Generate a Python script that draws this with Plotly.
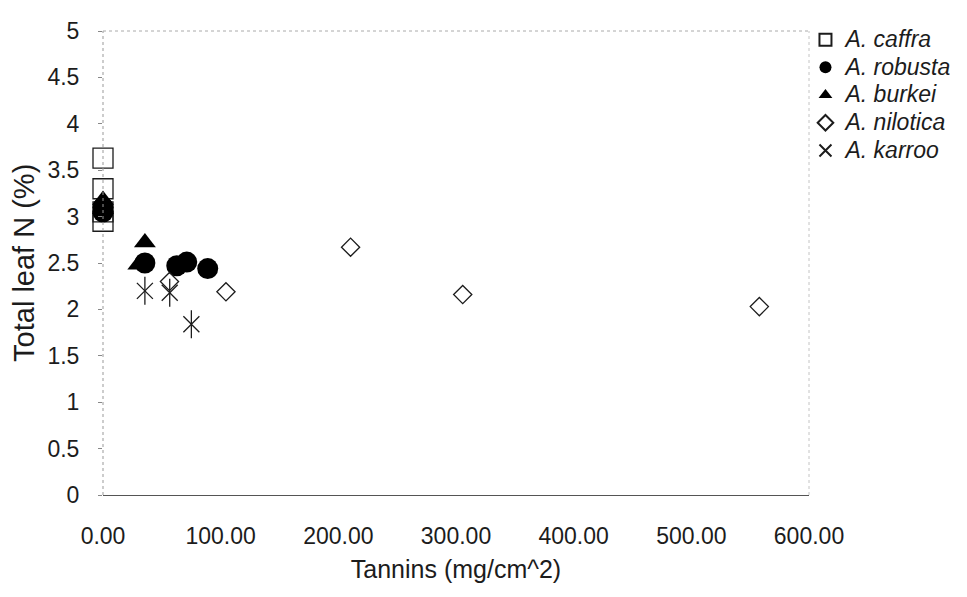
import plotly.graph_objects as go

# Data
caffra_x = [0, 0, 0, 0]
caffra_y = [3.63, 3.30, 3.05, 2.95]
robusta_x = [0, 0, 35.6, 62.7, 71.2, 89.0]
robusta_y = [3.05, 3.10, 2.50, 2.47, 2.51, 2.44]
burkei_x = [0, 0, 35.6, 30.0]
burkei_y = [3.18, 3.08, 2.72, 2.48]
nilotica_x = [56.5, 104.5, 210.4, 305.7, 557.8]
nilotica_y = [2.30, 2.19, 2.67, 2.16, 2.03]
karroo_x = [35.6, 56.7, 75.1]
karroo_y = [2.20, 2.18, 1.84]

species = ["A. caffra", "A. robusta", "A. burkei", "A. nilotica", "A. karroo"]
x_ticks = [0, 100, 200, 300, 400, 500, 600]
y_ticks = [0, 0.5, 1, 1.5, 2, 2.5, 3, 3.5, 4, 4.5, 5]

FONT = "Liberation Sans, Arial, sans-serif"
INK = "#1c1c1c"


def lname(s):
    return '<span style="font-size:23px">' + s + '</span>'


fig = go.Figure()
fig.add_trace(go.Scatter(x=caffra_x, y=caffra_y, mode="markers", name=lname(species[0]),
                         marker=dict(symbol="square-open", size=20, color=INK,
                                     line=dict(width=1.3, color=INK)),
                         cliponaxis=False))
fig.add_trace(go.Scatter(x=robusta_x, y=robusta_y, mode="markers", name=lname(species[1]),
                         marker=dict(symbol="circle", size=21, color="#000"),
                         cliponaxis=False))
fig.add_trace(go.Scatter(x=burkei_x, y=burkei_y, mode="markers", name=lname(species[2]),
                         marker=dict(symbol="triangle-up", size=19, color="#000"),
                         cliponaxis=False))
fig.add_trace(go.Scatter(x=nilotica_x, y=nilotica_y, mode="markers", name=lname(species[3]),
                         marker=dict(symbol="diamond-open", size=14, color=INK,
                                     line=dict(width=1.3, color=INK)),
                         cliponaxis=False))
fig.add_trace(go.Scatter(x=karroo_x, y=karroo_y, mode="markers", name=lname(species[4]),
                         marker=dict(symbol="x-thin-open", size=16, color=INK,
                                     line=dict(width=1.3, color=INK)),
                         cliponaxis=False))
fig.add_trace(go.Scatter(x=karroo_x, y=karroo_y, mode="markers", name=species[4],
                         showlegend=False,
                         marker=dict(symbol="line-ns-open", size=20, color=INK,
                                     line=dict(width=1.3, color=INK)),
                         cliponaxis=False))

# The page body adds an 8px offset, so the figure is 16px smaller than the window
fig.update_layout(
    width=959, height=589,
    margin=dict(l=95, r=157, t=10, b=102),
    paper_bgcolor="white", plot_bgcolor="white",
    font=dict(family=FONT, color=INK, size=23),
    showlegend=True,
    legend=dict(x=0.995, y=1.022, xanchor="left", yanchor="top",
                font=dict(family=FONT, size=19, style="italic", color=INK),
                itemsizing="constant", traceorder="normal",
                bgcolor="rgba(0,0,0,0)"),
    xaxis=dict(range=[0, 600], tickvals=x_ticks, tickformat=".2f",
               showgrid=False, zeroline=False, showline=True, linecolor="#555",
               linewidth=1, ticks="", ticklabelstandoff=20,
               tickfont=dict(size=23),
               title=dict(text="Tannins (mg/cm^2)", standoff=12,
                          font=dict(size=25))),
    yaxis=dict(range=[0, 5], tickvals=y_ticks,
               showgrid=False, zeroline=False, showline=False,
               ticks="outside", ticklen=4, tickcolor="#888",
               ticklabelstandoff=14, tickfont=dict(size=23)),
    annotations=[dict(text="Total leaf N (%)", textangle=-90, showarrow=False,
                      xref="paper", yref="paper", x=-0.112, y=0.5,
                      xanchor="center", yanchor="middle",
                      font=dict(family=FONT, size=29, color=INK))],
)

# plot-area border: dotted light gray on left, top and right
fig.add_shape(type="line", xref="paper", yref="paper", x0=0, x1=0, y0=0, y1=1,
              line=dict(color="#999", width=1, dash="dot"))
fig.add_shape(type="line", xref="paper", yref="paper", x0=0, x1=1, y0=1, y1=1,
              line=dict(color="#aaa", width=1, dash="dot"))
fig.add_shape(type="line", xref="paper", yref="paper", x0=1, x1=1, y0=0, y1=1,
              line=dict(color="#c4c4c4", width=1, dash="dot"))

fig.write_html("out.html")
